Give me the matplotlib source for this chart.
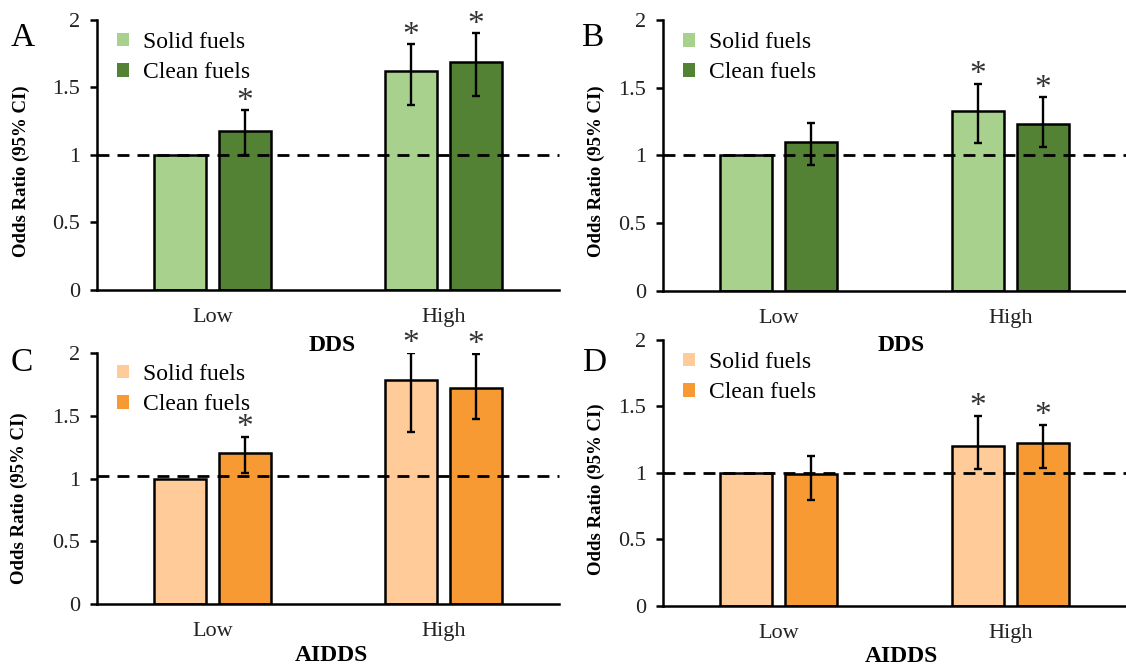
import numpy as np
import matplotlib.pyplot as plt
from matplotlib.patches import Patch

plt.rcParams['font.family'] = ['Liberation Serif', 'DejaVu Serif']

categories = ['Low', 'High']
fuel_labels = ['Solid fuels', 'Clean fuels']

# A: DDS, model 1
a_solid = [1.00, 1.62]
a_clean = [1.18, 1.69]
a_solid_lo = [np.nan, 1.37]
a_solid_hi = [np.nan, 1.82]
a_clean_lo = [1.00, 1.44]
a_clean_hi = [1.33, 1.90]
a_sig_solid = [False, True]
a_sig_clean = [True, True]

# B: DDS, model 2
b_solid = [1.00, 1.33]
b_clean = [1.10, 1.23]
b_solid_lo = [np.nan, 1.09]
b_solid_hi = [np.nan, 1.53]
b_clean_lo = [0.93, 1.06]
b_clean_hi = [1.24, 1.43]
b_sig_solid = [False, True]
b_sig_clean = [False, True]

# C: AIDDS, model 1
c_solid = [1.00, 1.78]
c_clean = [1.20, 1.72]
c_solid_lo = [np.nan, 1.37]
c_solid_hi = [np.nan, 2.00]
c_clean_lo = [1.04, 1.47]
c_clean_hi = [1.33, 1.99]
c_sig_solid = [False, True]
c_sig_clean = [True, True]

# D: AIDDS, model 2
d_solid = [1.00, 1.20]
d_clean = [0.99, 1.225]
d_solid_lo = [np.nan, 1.03]
d_solid_hi = [np.nan, 1.43]
d_clean_lo = [0.80, 1.04]
d_clean_hi = [1.13, 1.36]
d_sig_solid = [False, True]
d_sig_clean = [False, True]

greens = ['#A9D18E', '#548235']
oranges = ['#FFCC99', '#F89A34']


def draw_panel(ax, solid, clean, solid_lo, solid_hi, clean_lo, clean_hi,
               sig_solid, sig_clean, colors, xlabel, ref=1.0):
    x = np.arange(len(categories))
    w = 0.225
    off = 0.141
    series = [(solid, solid_lo, solid_hi, sig_solid, -off),
              (clean, clean_lo, clean_hi, sig_clean, off)]
    for i, (vals, lo, hi, sig, dx) in enumerate(series):
        ax.bar(x + dx, vals, w, color=colors[i], edgecolor='black',
               linewidth=1.8, zorder=2)
        vals = np.array(vals, dtype=float)
        lo = np.array(lo, dtype=float)
        hi = np.array(hi, dtype=float)
        ok = ~np.isnan(lo)
        ax.errorbar(x[ok] + dx, vals[ok],
                    yerr=[vals[ok] - lo[ok], hi[ok] - vals[ok]],
                    fmt='none', ecolor='black', elinewidth=1.7,
                    capsize=3, capthick=1.7, zorder=4)
        for j in range(len(x)):
            if sig[j]:
                top = hi[j] if ok[j] else vals[j]
                ax.text(x[j] + dx, top + 0.005, '*', ha='center',
                        va='baseline', fontsize=24, color='#333333')
    ax.axhline(ref, color='black', linestyle=(0, (4.3, 2.9)),
               linewidth=2, zorder=3, clip_on=False)

    ax.set_facecolor('none')
    ax.set_xlim(-0.5, 1.5)
    ax.set_ylim(0, 2)
    ax.set_yticks([0, 0.5, 1, 1.5, 2])
    ax.set_yticklabels(['0', '0.5', '1', '1.5', '2'])
    ax.set_xticks(x)
    ax.set_xticklabels(categories)
    ax.tick_params(axis='x', length=0, pad=13, labelsize=16,
                   labelcolor='#222222')
    ax.tick_params(axis='y', length=5, width=1.8, pad=7, labelsize=16,
                   labelcolor='#222222')
    for s in ['top', 'right']:
        ax.spines[s].set_visible(False)
    for s in ['left', 'bottom']:
        ax.spines[s].set_linewidth(1.8)

    ax.set_ylabel('Odds Ratio (95% CI)', fontsize=13.5, fontweight='bold')
    ax.set_xlabel(xlabel, fontsize=17, fontweight='bold')

    handles = [Patch(facecolor=colors[0]), Patch(facecolor=colors[1])]
    ax.legend(handles, fuel_labels, loc='upper left',
              bbox_to_anchor=(0.044, 0.955), frameon=False, fontsize=17,
              handlelength=0.5, handleheight=0.5, handletextpad=0.6,
              labelspacing=0.39, borderaxespad=0, borderpad=0)


fig = plt.figure(figsize=(11.26, 6.66), dpi=100)
ax_a = fig.add_axes([0.0861, 0.5646, 0.4103, 0.4054])
ax_b = fig.add_axes([0.5888, 0.5635, 0.4112, 0.4064])
ax_c = fig.add_axes([0.0861, 0.0926, 0.4103, 0.3778])
ax_d = fig.add_axes([0.5888, 0.0901, 0.4112, 0.3994])
ax_a.set_zorder(2)
ax_b.set_zorder(2)

draw_panel(ax_a, a_solid, a_clean, a_solid_lo, a_solid_hi, a_clean_lo,
           a_clean_hi, a_sig_solid, a_sig_clean, greens, 'DDS')
draw_panel(ax_b, b_solid, b_clean, b_solid_lo, b_solid_hi, b_clean_lo,
           b_clean_hi, b_sig_solid, b_sig_clean, greens, 'DDS')
draw_panel(ax_c, c_solid, c_clean, c_solid_lo, c_solid_hi, c_clean_lo,
           c_clean_hi, c_sig_solid, c_sig_clean, oranges, 'AIDDS', ref=1.02)
draw_panel(ax_d, d_solid, d_clean, d_solid_lo, d_solid_hi, d_clean_lo,
           d_clean_hi, d_sig_solid, d_sig_clean, oranges, 'AIDDS')

# axis label placement (axes fraction)
ax_a.yaxis.set_label_coords(-0.164, 0.44)
ax_b.yaxis.set_label_coords(-0.145, 0.44)
ax_c.yaxis.set_label_coords(-0.168, 0.42)
ax_d.yaxis.set_label_coords(-0.145, 0.44)
for ax, xl, yl in [(ax_a, 0.509, -0.204), (ax_b, 0.514, -0.204),
                   (ax_c, 0.507, -0.203), (ax_d, 0.514, -0.19)]:
    ax.xaxis.set_label_coords(xl, yl)
    ax.xaxis.label.set_verticalalignment('center')
    ax.yaxis.label.set_verticalalignment('center')

# panel letters
fig.text(0.0204, 0.943, 'A', fontsize=24, ha='center', va='center')
fig.text(0.526, 0.943, 'B', fontsize=24, ha='center', va='center')
fig.text(0.019, 0.456, 'C', fontsize=24, ha='center', va='center')
fig.text(0.5275, 0.456, 'D', fontsize=24, ha='center', va='center')

fig.savefig('out.png', dpi=100)
